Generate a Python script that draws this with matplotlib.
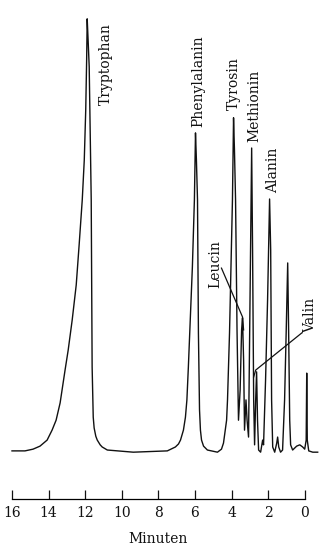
#!/usr/bin/env python3
"""
Chromatogram of amino acids (retention time in minutes, reversed axis).
"""

import matplotlib
matplotlib.use('Agg')
import matplotlib.pyplot as plt

# detector trace: time [min], signal [arbitrary, Trp peak = 100]
TIME = [16.00, 15.29, 14.85, 14.47, 14.08, 13.81, 13.59, 13.37, 13.10, 12.93,
        12.71, 12.49, 12.33, 12.16, 12.05, 11.97, 11.92, 11.89, 11.84, 11.78,
        11.67, 11.62, 11.56, 11.51, 11.42, 11.34, 11.18, 11.07, 10.79, 9.37,
        7.51, 7.07, 6.90, 6.79, 6.63, 6.52, 6.44, 6.36, 6.14, 6.03,
        5.97, 5.92, 5.86, 5.81, 5.75, 5.70, 5.64, 5.53, 5.32, 4.77,
        4.55, 4.44, 4.27, 4.22, 4.11, 3.95, 3.89, 3.84, 3.78, 3.70,
        3.62, 3.53, 3.45, 3.40, 3.34, 3.29, 3.21, 3.15, 3.07, 2.99,
        2.90, 2.85, 2.79, 2.74, 2.68, 2.63, 2.58, 2.52, 2.41, 2.30,
        2.25, 2.14, 2.03, 1.92, 1.86, 1.81, 1.75, 1.64, 1.53, 1.48,
        1.42, 1.32, 1.21, 1.10, 1.01, 0.93, 0.88, 0.82, 0.77, 0.66,
        0.44, 0.27, 0.11, 0.00, -0.08, -0.11, -0.14, -0.22, -0.44, -0.71]
SIGNAL = [-0.2, -0.2, 0.2, 0.9, 2.3, 4.6, 6.9, 10.9, 18.5, 23.1,
          30.1, 38.2, 47.5, 57.9, 67.1, 78.7, 90.3, 99.8, 94.9, 88.7,
          57.9, 19.2, 7.6, 5.1, 3.2, 2.3, 1.2, 0.7, 0.0, -0.5,
          -0.2, 0.7, 1.4, 2.3, 4.6, 7.6, 11.6, 19.2, 42.4, 57.9,
          73.4, 67.1, 57.9, 27.1, 9.3, 4.6, 2.3, 0.9, 0.0, -0.5,
          0.2, 1.6, 6.9, 11.6, 27.1, 57.9, 76.9, 69.4, 57.9, 27.8,
          6.9, 13.9, 27.8, 30.6, 20.8, 4.6, 11.6, 6.9, 3.0, 34.7,
          69.9, 46.3, 11.6, 1.2, 11.6, 18.1, 6.9, 0.0, -0.5, 2.3,
          1.2, 16.2, 34.7, 58.1, 46.3, 11.6, 0.7, -0.5, 1.6, 3.0,
          0.7, -0.5, 0.0, 11.6, 27.8, 43.3, 27.8, 6.9, 1.2, 0.0,
          0.9, 1.2, 0.7, 0.2, 2.3, 17.8, 2.3, -0.2, -0.5, -0.5]

# peak labels: name, label time, label bottom (signal units)
NAMES = ['Tryptophan', 'Phenylalanin', 'Tyrosin', 'Methionin', 'Alanin',
         'Leucin', 'Valin']
LABEL_T = [10.85, 5.81, 3.89, 2.74, 1.75, 4.88, -0.27]
LABEL_S = [79.9, 74.8, 78.7, 71.3, 59.5, 37.5, 27.1]

# leader lines for the crowded peaks
LEADERS = {
    'Leucin': ([4.55, 3.40, 3.34], [42.1, 30.8, 27.8]),
    'Valin': ([0.16, 2.68, 2.79], [27.1, 18.5, 16.9]),
}

TICKS = [16, 14, 12, 10, 8, 6, 4, 2, 0]

plt.rcParams['font.family'] = ['DejaVu Serif']

fig = plt.figure(figsize=(3.28, 5.60), dpi=100)
ax = fig.add_axes([0.0366, 0.1089, 0.932, 0.859])

ax.plot(TIME, SIGNAL, color='#111111', lw=1.0, clip_on=False)

for name, t, s in zip(NAMES, LABEL_T, LABEL_S):
    ax.text(t, s, name, rotation=90, ha='center', va='bottom',
            fontsize=10, color='#111111')
for name, (lt, ls) in LEADERS.items():
    ax.plot(lt, ls, color='#111111', lw=0.9)

ax.set_xlim(16, -0.71)
ax.set_ylim(-11.34, 100)
for side in ['top', 'left', 'right']:
    ax.spines[side].set_visible(False)
ax.spines['bottom'].set_bounds(0, 16)
ax.spines['bottom'].set_linewidth(0.9)
ax.set_yticks([])
ax.set_xticks(TICKS)
ax.set_xticklabels([str(t) for t in TICKS])
ax.tick_params(axis='x', direction='in', length=6.5, width=0.9,
               pad=5, labelsize=10, colors='#111111')
ax.set_xlabel('Minuten', fontsize=10, labelpad=9, color='#111111')
ax.xaxis.label.set_x((16 - 8) / 16.71)

fig.savefig('out.png', dpi=100)
